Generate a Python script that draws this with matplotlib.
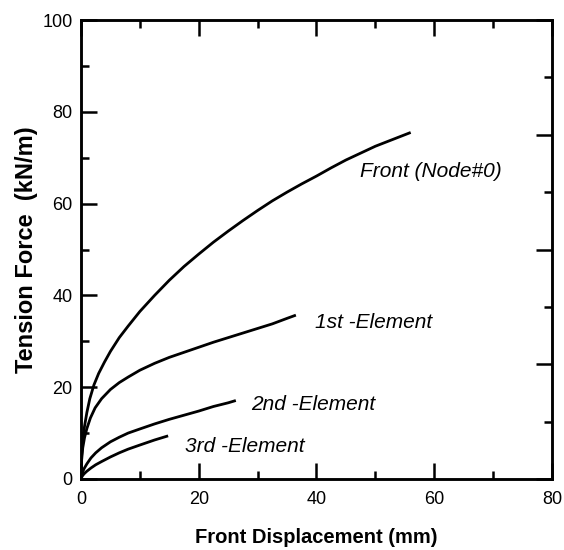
import matplotlib
matplotlib.use("Agg")
import matplotlib.pyplot as plt
from matplotlib.ticker import MultipleLocator

plt.rcParams['font.family'] = ['Liberation Sans', 'DejaVu Sans']

# Front (Node#0)
front_x = [0, 0.1, 0.3, 0.6, 1, 1.5, 2.2, 3, 4, 5, 6.5, 8, 10, 12.5, 15, 17.5, 20,
           22.5, 25, 27.5, 30, 32.5, 35, 37.5, 40, 42.5, 45, 47.5, 50, 53, 56]
front_y = [0, 5, 8.5, 11.5, 14.5, 17.5, 20.5, 23, 25.5, 27.8, 30.8, 33.3, 36.5, 40, 43.3, 46.3, 49,
           51.6, 54, 56.3, 58.5, 60.6, 62.5, 64.3, 66, 67.8, 69.5, 71, 72.5, 74, 75.5]

# 1st -Element
first_x = [0, 0.1, 0.3, 0.6, 1, 1.6, 2.4, 3.5, 5, 6.5, 8, 10, 12.5, 15, 17.5, 20,
           22.5, 25, 27.5, 30, 32.5, 35, 36.5]
first_y = [0, 4, 6.8, 9, 11, 13.3, 15.5, 17.5, 19.5, 21, 22.2, 23.7, 25.2, 26.5, 27.6, 28.7,
           29.8, 30.8, 31.8, 32.8, 33.8, 35, 35.7]

# 2nd -Element
second_x = [0, 0.2, 0.5, 1, 1.7, 2.5, 3.5, 5, 6.5, 8, 10, 12.5, 15, 17.5, 20, 22.5, 25, 26.3]
second_y = [0, 1.2, 2.2, 3.3, 4.6, 5.7, 6.8, 8.1, 9.1, 10, 10.9, 12, 13, 13.9, 14.8, 15.8, 16.6, 17.1]

# 3rd -Element
third_x = [0, 0.2, 0.5, 1, 1.7, 2.5, 3.5, 5, 6.5, 8, 10, 12.5, 14.8]
third_y = [0, 0.6, 1.1, 1.7, 2.4, 3.1, 3.8, 4.8, 5.7, 6.5, 7.4, 8.5, 9.4]

labels = ["Front (Node#0)", "1st -Element", "2nd -Element", "3rd -Element"]
label_pos = [(47.4, 66.9), (39.7, 34.2), (28.9, 16.3), (17.7, 7.0)]

fig = plt.figure(figsize=(5.64, 5.5), dpi=100)
ax = fig.add_axes([0.1436, 0.1291, 0.8351, 0.8345])

for xs, ys in [(front_x, front_y), (first_x, first_y), (second_x, second_y), (third_x, third_y)]:
    ax.plot(xs, ys, color='black', lw=2, solid_capstyle='butt', solid_joinstyle='round')

for txt, (tx, ty) in zip(labels, label_pos):
    ax.text(tx, ty, txt, fontsize=15, fontstyle='italic', ha='left', va='center')

ax.set_xlim(0, 80)
ax.set_ylim(0, 100)
ax.xaxis.set_major_locator(MultipleLocator(20))
ax.xaxis.set_minor_locator(MultipleLocator(10))
ax.yaxis.set_major_locator(MultipleLocator(20))
ax.yaxis.set_minor_locator(MultipleLocator(10))
ax.tick_params(which='both', direction='in', top=True, right=False, width=1.8, labelsize=13)
ax.tick_params(which='major', length=11.5)
ax.tick_params(which='minor', length=5.8)
ax.tick_params(axis='x', which='major', pad=9)
ax.tick_params(axis='y', which='major', pad=6)
for s in ax.spines.values():
    s.set_linewidth(1.8)

ax2 = ax.twinx()
ax2.set_ylim(0, 100)
ax2.yaxis.set_major_locator(MultipleLocator(25))
ax2.yaxis.set_minor_locator(MultipleLocator(12.5))
ax2.tick_params(which='both', direction='in', width=1.8, labelright=False)
ax2.tick_params(which='major', length=11.5)
ax2.tick_params(which='minor', length=5.8)
for s in ax2.spines.values():
    s.set_linewidth(1.8)

ax.set_xlabel("Front Displacement (mm)", fontsize=14.5, fontweight='bold', labelpad=14)
ax.set_ylabel("Tension Force  (kN/m)", fontsize=17, fontweight='bold', labelpad=3)

fig.savefig("out.png", dpi=100)
